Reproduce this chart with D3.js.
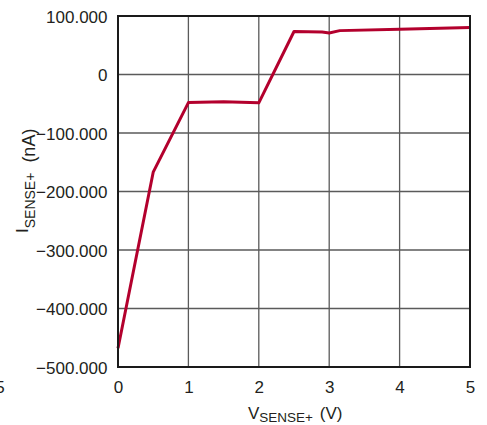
<!DOCTYPE html>
<html><head><meta charset="utf-8">
<script src="https://cdn.jsdelivr.net/npm/d3@7"></script>
<style>
body{margin:0;background:#fff}
svg text{font-family:"Liberation Sans",Arial,sans-serif;fill:#231f20}
</style>
</head><body>
<svg id="c" width="487" height="425"></svg>
<script>
// Data
const vSense = [0, 0.5, 1, 1.5, 2, 2.5, 2.9, 3.0, 3.15, 4, 5];
const iSense = [-468, -167, -48, -46.5, -48.5, 73.5, 72.5, 71, 75, 77.5, 80.5];
const xTicks = [0, 1, 2, 3, 4, 5];
const xTickLabels = ["0", "1", "2", "3", "4", "5"];
const yTicks = [100, 0, -100, -200, -300, -400, -500];
const yTickLabels = ["100.000", "0", "\u2212100.000", "\u2212200.000", "\u2212300.000", "\u2212400.000", "\u2212500.000"];

const svg = d3.select("#c");
const L = 118, R = 470, T = 16, B = 367;
const x = d3.scaleLinear().domain([0, 5]).range([L, R]);
const y = d3.scaleLinear().domain([-500, 100]).range([B, T]);

// grid
const grid = svg.append("g");
grid.selectAll("line.v").data(xTicks.slice(1, -1)).join("line")
  .attr("x1", d => x(d)).attr("x2", d => x(d)).attr("y1", T).attr("y2", B)
  .attr("stroke", "#5a5a5a").attr("stroke-width", 1.3);
grid.selectAll("line.h").data(yTicks.slice(1, -1)).join("line")
  .attr("y1", d => y(d)).attr("y2", d => y(d)).attr("x1", L).attr("x2", R)
  .attr("stroke", "#5a5a5a").attr("stroke-width", 1.3);

// axes labels
const ya = svg.append("g").attr("transform", `translate(${L},0)`)
  .call(d3.axisLeft(y).tickValues(yTicks).tickFormat((d, i) => yTickLabels[i]).tickSize(0).tickPadding(10.5));
ya.select(".domain").remove();
ya.selectAll("text").attr("font-size", 17).attr("dy", "0.37em")
  .style("font-family", '"Liberation Sans",Arial,sans-serif').attr("fill", "#231f20");

const xa = svg.append("g").attr("transform", `translate(0,${B})`)
  .call(d3.axisBottom(x).tickValues(xTicks).tickFormat((d, i) => xTickLabels[i]).tickSize(0).tickPadding(14));
xa.select(".domain").remove();
xa.selectAll("text").attr("font-size", 17)
  .style("font-family", '"Liberation Sans",Arial,sans-serif').attr("fill", "#231f20");

// stray "5" from neighbouring chart (cut off at the left edge, as in the reference)
svg.append("text").attr("x", 0).attr("y", 393).attr("text-anchor", "middle")
  .attr("font-size", 17).text("5");

// data line
const line = d3.line().x((d, i) => x(vSense[i])).y((d, i) => y(iSense[i]));
svg.append("path").datum(iSense).attr("d", line)
  .attr("fill", "none").attr("stroke", "#b3002d").attr("stroke-width", 3)
  .attr("stroke-linejoin", "round");

// frame
svg.append("rect").attr("x", L).attr("y", T).attr("width", R - L).attr("height", B - T)
  .attr("fill", "none").attr("stroke", "#1a1a1a").attr("stroke-width", 2);

// x label
const xl = svg.append("text").attr("x", 248).attr("y", 419);
xl.append("tspan").attr("font-size", 17).text("V");
xl.append("tspan").attr("font-size", 13.5).attr("dy", 2.7)
  .style("font-family", '"Liberation Sans Narrow","Liberation Sans",Arial,sans-serif').text("SENSE+");
xl.append("tspan").attr("font-size", 17).attr("dy", -2.7).attr("dx", 2).text(" (V)");

// y label
const yl = svg.append("text").attr("transform", "translate(35,233) rotate(-90)");
yl.append("tspan").attr("font-size", 17).attr("dy", -7).text("I");
yl.append("tspan").attr("font-size", 14).attr("dy", 7)
  .style("font-family", '"Liberation Sans Narrow","Liberation Sans",Arial,sans-serif').text("SENSE+");
yl.append("tspan").attr("font-size", 18).attr("dx", 5).text(" (nA)");
</script>
</body></html>
